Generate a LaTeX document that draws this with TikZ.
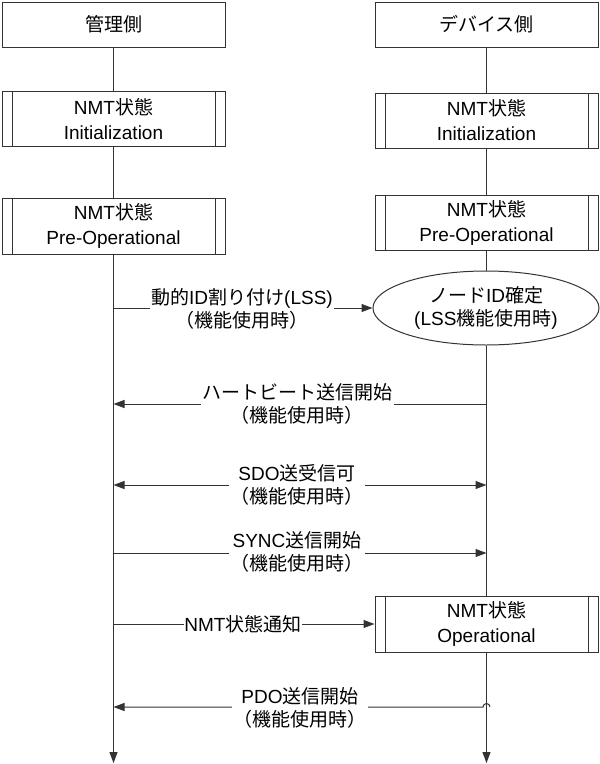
\documentclass[tikz,border=0pt]{standalone}
\usepackage{fontspec}
\setmainfont{Liberation Sans}
\newfontfamily\jp{Noto Sans CJK JP}
\usetikzlibrary{shapes.geometric,arrows.meta}
\begin{document}
\begin{tikzpicture}[x=1pt,y=-1pt,
  every node/.style={font=\fontsize{19}{23}\selectfont, text=black},
  ln/.style={draw=black!80, line width=1pt},
  arr/.style={ln, -{Triangle[length=11pt,width=8pt]}},
  darr/.style={ln, {Triangle[length=11pt,width=8pt]}-{Triangle[length=11pt,width=8pt]}},
  headbox/.style={ln, rectangle, minimum width=223pt, minimum height=45pt, inner sep=0pt, align=center},
  statebox/.style={ln, rectangle, minimum width=223pt, minimum height=55pt, inner sep=0pt, align=center,
    font=\fontsize{19}{25}\selectfont,
    path picture={\draw[black!80, line width=1pt]
      ([xshift=10pt]path picture bounding box.north west) -- ([xshift=10pt]path picture bounding box.south west)
      ([xshift=-10pt]path picture bounding box.north east) -- ([xshift=-10pt]path picture bounding box.south east);}},
  lab/.style={fill=white, inner sep=1.5pt, align=center}
]
\useasboundingbox (0,0) rectangle (600,764);

% headers
\node[headbox] (headL) at (113.5,24.5) {\jp 管理側};
\node[headbox] (headR) at (486.5,24.5) {\jp デバイス側};

% left states
\node[statebox] (initL) at (113.5,119) {NMT{\jp 状態}\\Initialization};
\node[statebox, minimum height=56pt] (preL) at (113.5,226) {NMT{\jp 状態}\\Pre-Operational};

% right states
\node[statebox] (initR) at (486.5,120.5) {NMT{\jp 状態}\\Initialization};
\node[statebox] (preR) at (486.5,222.5) {NMT{\jp 状態}\\Pre-Operational};
\node[ln, ellipse, minimum width=226pt, minimum height=74pt, inner sep=0pt, align=center] (ell) at (486,308)
  {{\jp ノード}ID{\jp 確定}\\(LSS{\jp 機能使用時})};
\node[statebox, minimum height=56pt] (opR) at (486.5,624) {NMT{\jp 状態}\\Operational};

% lifelines
\coordinate (endL) at (113.5,763);
\coordinate (endR) at (486.5,763);
\draw[ln] (headL) -- (initL);
\draw[ln] (initL) -- (preL);
\draw[arr] (preL.south) -- (endL);
\draw[ln] (headR) -- (initR);
\draw[ln] (initR) -- (preR);
\draw[ln] (preR.south) -- (preR.south |- ell.north);
\draw[ln] (ell.south -| endR) -- (opR.north);
\draw[arr] (opR.south) -- (endR);

% message coordinates
\coordinate (l1) at (113.5,308);
\coordinate (l2) at (113.5,404);
\coordinate (r2) at (486.5,404);
\coordinate (l3) at (113.5,485);
\coordinate (r3) at (486.5,485);
\coordinate (l4) at (113.5,553);
\coordinate (r4) at (486.5,553);
\coordinate (l5) at (113.5,624);
\coordinate (l6) at (113.5,707);
\coordinate (r6) at (490,707);

% messages
\draw[arr] (l1) -- (ell.west);
\node[lab] (m1) at (242,309) {{\jp 動的}ID{\jp 割り付け}(LSS)\\{\jp （機能使用時）}};

\draw[arr] (r2) -- (l2);
\node[lab] (m2) at (297,404) {{\jp ハートビート送信開始}\\{\jp （機能使用時）}};

\draw[darr] (l3) -- (r3);
\node[lab] (m3) at (297,485) {SDO{\jp 送受信可}\\{\jp （機能使用時）}};

\draw[arr] (l4) -- (r4);
\node[lab] (m4) at (297,551.5) {SYNC{\jp 送信開始}\\{\jp （機能使用時）}};

\draw[arr] (l5) -- (opR.west);
\node[lab, inner sep=0.5pt] (m5) at (243,624) {NMT{\jp 状態通知}};

\draw[arr] (r6) arc[start angle=0, end angle=180, radius=3.5pt] -- (l6);
\node[lab] (m6) at (300,708) {PDO{\jp 送信開始}\\{\jp （機能使用時）}};
\end{tikzpicture}
\end{document}
